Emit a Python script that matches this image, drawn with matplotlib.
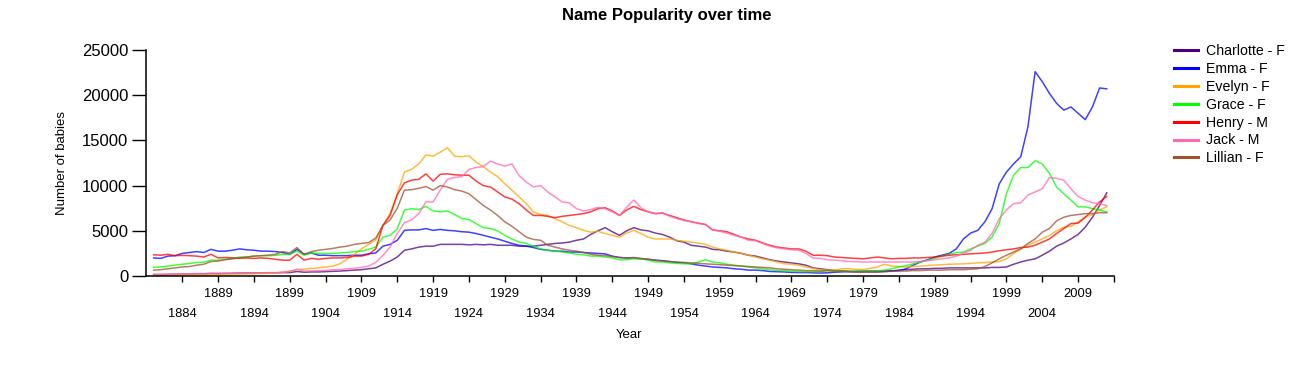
import matplotlib
matplotlib.use("Agg")
import matplotlib.pyplot as plt
import numpy as np

plt.rcParams['font.family'] = ['Liberation Sans', 'DejaVu Sans']

# yearly counts 1880-2013
years = list(range(1880, 2014))

charlotte = [150, 150, 170, 180, 200, 220, 230, 240, 280, 270,
             290, 300, 320, 330, 330, 340, 350, 350, 380, 380,
             500, 420, 450, 450, 480, 500, 550, 600, 650, 700,
             800, 900, 1300, 1650, 2100, 2850, 3000, 3200, 3300, 3300,
             3500, 3500, 3500, 3500, 3450, 3500, 3450, 3500, 3400, 3400,
             3400, 3300, 3300, 3300, 3400, 3500, 3600, 3650, 3750, 3950,
             4100, 4600, 5000, 5350, 4900, 4500, 5000, 5350, 5100, 5000,
             4750, 4600, 4300, 3900, 3750, 3400, 3300, 3200, 2950, 2900,
             2750, 2650, 2500, 2300, 2200, 2000, 1800, 1650, 1550, 1450,
             1350, 1200, 900, 800, 700, 600, 550, 500, 450, 450,
             450, 450, 500, 550, 650, 700, 750, 800, 800, 850,
             850, 900, 900, 900, 900, 900, 900, 950, 950, 1000,
             1300, 1550, 1750, 1900, 2300, 2750, 3300, 3650, 4100, 4600,
             5400, 6500, 7800, 9200]

emma = [2000, 1950, 2200, 2250, 2500, 2600, 2700, 2600, 2950, 2750,
        2750, 2850, 3000, 2900, 2850, 2750, 2750, 2700, 2600, 2400,
        2950, 2400, 2550, 2300, 2300, 2250, 2250, 2250, 2300, 2300,
        2450, 2550, 3300, 3500, 3950, 5050, 5100, 5100, 5250, 5050,
        5150, 5050, 5000, 4900, 4850, 4700, 4500, 4300, 4100, 3850,
        3600, 3400, 3300, 3150, 2950, 2850, 2750, 2750, 2650, 2650,
        2600, 2550, 2500, 2450, 2200, 2050, 2000, 2000, 1900, 1850,
        1750, 1700, 1600, 1500, 1450, 1350, 1200, 1100, 1000, 950,
        900, 800, 750, 650, 650, 600, 500, 480, 450, 400,
        380, 380, 350, 330, 350, 420, 450, 480, 520, 550,
        550, 560, 560, 580, 600, 800, 1200, 1550, 1800, 2100,
        2300, 2500, 3000, 4100, 4750, 5050, 6000, 7450, 10200, 11500,
        12400, 13200, 16500, 22600, 21500, 20200, 19100, 18350, 18700, 18000,
        17300, 18700, 20800, 20700]

evelyn = [100, 100, 120, 120, 130, 140, 150, 160, 180, 190,
          200, 200, 220, 230, 250, 270, 300, 330, 400, 550,
          700, 750, 850, 900, 1000, 1100, 1350, 1850, 2400, 3000,
          3500, 4000, 5600, 6900, 9100, 11500, 11800, 12400, 13400, 13250,
          13700, 14200, 13250, 13200, 13300, 12600, 12100, 11500, 11000, 10200,
          9500, 8750, 8000, 7100, 6800, 6700, 6350, 6000, 5600, 5350,
          5050, 4850, 4950, 4700, 4500, 4300, 4750, 5050, 4700, 4300,
          4100, 4100, 4100, 3950, 3850, 3750, 3650, 3500, 3200, 3000,
          2850, 2650, 2500, 2300, 2100, 1900, 1750, 1550, 1350, 1300,
          1200, 1000, 850, 700, 650, 650, 800, 800, 750, 700,
          850, 1000, 1300, 1100, 1050, 1000, 1050, 1100, 1150, 1200,
          1250, 1300, 1320, 1350, 1400, 1450, 1500, 1550, 1600, 1900,
          2500, 3000, 3400, 3750, 4100, 4500, 5000, 5400, 5500, 6000,
          6500, 6800, 7300, 7650]

grace = [950, 1000, 1100, 1200, 1300, 1380, 1500, 1520, 1750, 1750,
         1850, 1950, 2100, 2100, 2200, 2250, 2250, 2280, 2400, 2400,
         2750, 2300, 2550, 2500, 2500, 2500, 2550, 2600, 2700, 2750,
         2950, 3200, 4300, 4500, 5200, 7300, 7450, 7350, 7700, 7200,
         7100, 7200, 6800, 6350, 6250, 5800, 5350, 5250, 5000, 4500,
         4100, 3750, 3600, 3300, 3000, 2850, 2750, 2650, 2550, 2400,
         2350, 2200, 2200, 2100, 2000, 1800, 1800, 1900, 1900, 1750,
         1550, 1550, 1450, 1400, 1350, 1350, 1550, 1800, 1550, 1450,
         1300, 1200, 1100, 1000, 900, 800, 700, 600, 600, 550,
         500, 480, 480, 500, 600, 550, 550, 520, 550, 550,
         550, 580, 650, 800, 1000, 1150, 1350, 1550, 1750, 1950,
         2200, 2400, 2600, 2650, 3000, 3300, 3600, 4300, 5800, 9100,
         11150, 12000, 12000, 12750, 12400, 11350, 9850, 9100, 8400, 7650,
         7650, 7450, 7300, 7100]

henry = [2350, 2300, 2400, 2250, 2280, 2250, 2200, 2100, 2400, 2000,
         2050, 2000, 1950, 2000, 1950, 2000, 1950, 1850, 1750, 1750,
         2400, 1750, 1950, 1850, 1950, 2000, 2000, 2050, 2200, 2200,
         2400, 3000, 5600, 6700, 9000, 10300, 10600, 10700, 11300, 10500,
         11250, 11300, 11200, 11150, 11150, 10500, 10000, 9850, 9300, 8750,
         8500, 8000, 7300, 6700, 6700, 6600, 6450, 6600, 6700, 6800,
         6900, 7100, 7450, 7550, 7200, 6700, 7300, 7700, 7350, 7100,
         6900, 6950, 6700, 6450, 6200, 6000, 5850, 5700, 5100, 5000,
         4900, 4600, 4300, 4100, 3950, 3650, 3400, 3200, 3100, 3000,
         3000, 2750, 2300, 2300, 2250, 2100, 2050, 2000, 1950, 1900,
         2000, 2100, 2000, 1900, 1950, 1950, 2000, 2000, 2050, 2100,
         2200, 2300, 2350, 2400, 2450, 2500, 2550, 2650, 2800, 2900,
         3000, 3150, 3200, 3400, 3750, 4100, 4700, 5250, 5800, 5850,
         6500, 7300, 8200, 8800]

jack = [200, 200, 220, 220, 240, 250, 260, 270, 300, 290,
        300, 300, 320, 320, 330, 340, 350, 380, 420, 500,
        750, 550, 580, 600, 620, 700, 720, 800, 850, 950,
        1100, 1500, 2300, 3200, 4700, 5900, 6200, 6900, 8200, 8200,
        9500, 10700, 10900, 11000, 11800, 12000, 12100, 12700, 12400, 12150,
        12400, 11100, 10400, 9850, 10000, 9300, 8750, 8200, 8100, 7450,
        7200, 7350, 7600, 7450, 7100, 6700, 7600, 8400, 7550, 7100,
        6900, 7000, 6600, 6350, 6150, 6000, 5800, 5700, 5100, 4950,
        4750, 4500, 4300, 3950, 3900, 3600, 3300, 3100, 3000, 2900,
        2850, 2500, 2000, 1950, 1800, 1750, 1700, 1600, 1600, 1550,
        1550, 1550, 1550, 1550, 1550, 1550, 1550, 1600, 1700, 1800,
        1900, 2000, 2200, 2500, 2850, 3400, 3750, 4700, 6350, 7300,
        8000, 8100, 8950, 9300, 9650, 10900, 10800, 10600, 9650, 8800,
        8400, 8100, 8000, 7800]

lillian = [650, 700, 800, 900, 1000, 1050, 1200, 1300, 1600, 1650,
           1800, 1900, 2000, 2100, 2200, 2250, 2300, 2400, 2700, 2550,
           3150, 2400, 2700, 2850, 2950, 3050, 3200, 3300, 3500, 3600,
           3700, 4200, 5600, 6200, 7500, 9500, 9550, 9700, 9900, 9500,
           10000, 9850, 9550, 9400, 9100, 8450, 7800, 7300, 6700, 6000,
           5500, 4900, 4300, 4050, 3950, 3400, 3200, 3000, 2850, 2750,
           2600, 2400, 2300, 2250, 2150, 2050, 2000, 2050, 1950, 1850,
           1750, 1650, 1600, 1550, 1500, 1450, 1400, 1350, 1300, 1250,
           1200, 1150, 1100, 1050, 1000, 950, 900, 800, 750, 700,
           650, 600, 600, 550, 600, 550, 550, 500, 450, 450,
           450, 450, 480, 500, 550, 550, 600, 600, 650, 650,
           650, 700, 700, 700, 750, 800, 1050, 1450, 1900, 2300,
           2650, 3000, 3600, 4100, 4850, 5250, 6100, 6500, 6700, 6800,
           6900, 6900, 7000, 7000]

names = ['Charlotte - F', 'Emma - F', 'Evelyn - F', 'Grace - F',
         'Henry - M', 'Jack - M', 'Lillian - F']
series = [charlotte, emma, evelyn, grace, henry, jack, lillian]
colors = ['#4b0082', '#0000ff', '#ffa500', '#00ff00', '#ff0000', '#ff69b4', '#a0522d']

top_row = [1889, 1899, 1909, 1919, 1929, 1939, 1949, 1959, 1969, 1979, 1989, 1999, 2009]
bottom_row = [1884, 1894, 1904, 1914, 1924, 1934, 1944, 1954, 1964, 1974, 1984, 1994, 2004]

fig = plt.figure(figsize=(13.03, 3.65), dpi=100)
ax = fig.add_axes([0.1124, 0.2438, 0.7425, 0.6192])

for vals, c, lab in zip(series, colors, names):
    ax.plot(years, vals, color=c, lw=1.1, alpha=0.75, label=lab)

ax.set_xlim(1879, 2014)
ax.set_ylim(0, 25000)
ax.set_yticks(range(0, 25001, 5000))

ax.set_xticks(top_row + [2014])
ax.set_xticklabels([str(y) for y in top_row] + [''])
ax.set_xticks(bottom_row, minor=True)
ax.set_xticklabels([str(y) for y in bottom_row], minor=True)

ax.tick_params(axis='x', which='major', length=4, width=1, pad=4.5, labelsize=9.3)
ax.tick_params(axis='x', which='minor', length=4, width=1, pad=19, labelsize=9.3)
ax.tick_params(axis='y', length=10, width=1, pad=3, labelsize=12)

for s in ['top', 'right']:
    ax.spines[s].set_visible(False)
for s in ['left', 'bottom']:
    ax.spines[s].set_linewidth(1.1)

ax.set_xlabel('Year', fontsize=9.5)
ax.xaxis.set_label_coords(0.499, -0.235)
ax.set_ylabel('Number of babies', fontsize=9.5)
ax.yaxis.set_label_coords(-0.081, 0.5)

fig.text(0.512, 0.957, 'Name Popularity over time', ha='center', va='center',
         fontsize=12, fontweight='bold')

leg = ax.legend(loc='upper left', bbox_to_anchor=(1.056, 1.05), frameon=False,
                fontsize=10.2, handlelength=1.7, handletextpad=0.6,
                labelspacing=0.27, borderaxespad=0)
for line in leg.get_lines():
    line.set_linewidth(2.2)
    line.set_alpha(1)

fig.savefig('out.png', dpi=100)
